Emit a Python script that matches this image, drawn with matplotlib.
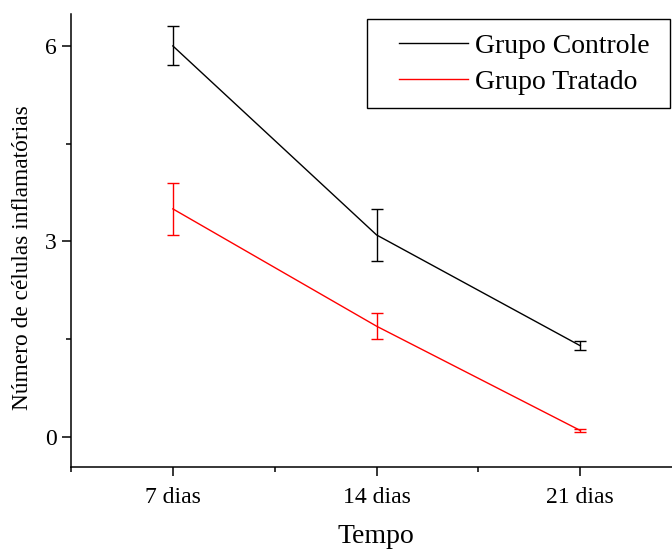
import numpy as np
import matplotlib.pyplot as plt
from matplotlib.lines import Line2D
from matplotlib.patches import Rectangle

plt.rcParams['font.family'] = ['Liberation Serif', 'DejaVu Serif']

dias = ['7 dias', '14 dias', '21 dias']
controle = [6.0, 3.1, 1.4]
controle_err = [0.3, 0.4, 0.07]
tratado = [3.5, 1.7, 0.1]
tratado_err = [0.4, 0.2, 0.03]

x = np.arange(1, len(dias) + 1)
W, H = 672, 551

fig = plt.figure(figsize=(W / 100, H / 100), dpi=100)
ax = fig.add_axes([71 / W, 84 / H, 1 - 71 / W, (467 - 14) / H])

ax.errorbar(x, controle, yerr=controle_err, color='black', lw=1.0,
            elinewidth=1.0, capsize=4.3, capthick=1.0)
ax.errorbar(x, tratado, yerr=tratado_err, color='red', lw=1.0,
            elinewidth=1.0, capsize=4.3, capthick=1.0)

ax.set_xlim(0.5, 3.45)
ax.set_ylim(-0.46, 6.49)
ax.set_xticks(x)
ax.set_xticklabels(dias)
ax.set_xticks([0.5, 1.5, 2.5], minor=True)
ax.set_yticks([0, 3, 6])
ax.set_yticks([1.5, 4.5], minor=True)

for side in ['top', 'right']:
    ax.spines[side].set_visible(False)
for side in ['left', 'bottom']:
    ax.spines[side].set_linewidth(1.1)

ax.tick_params(axis='both', which='major', direction='out', length=6.5,
               width=1.1, labelsize=17)
ax.tick_params(axis='y', which='major', pad=4)
ax.tick_params(axis='x', which='major', pad=8)
ax.tick_params(axis='both', which='minor', direction='out', length=3.5, width=1.1)

ax.set_xlabel('Tempo', fontsize=20)
ax.xaxis.set_label_coords((376 - 71) / 601, -0.125)
ax.set_ylabel('Número de células inflamatórias', fontsize=16.8)
ax.yaxis.set_label_coords(-0.063, (467 - 258) / 453)

# legend
handles = [Line2D([], [], color='black', lw=1.0),
           Line2D([], [], color='red', lw=1.0)]
fig.legend(handles, ['Grupo Controle', 'Grupo Tratado'],
           loc='center left', bbox_to_anchor=(399 / W, 1 - 64 / H),
           fontsize=20, frameon=False, handlelength=2.5, handletextpad=0.25,
           borderpad=0, labelspacing=0.38, borderaxespad=0)
fig.patches.append(Rectangle((367 / W, 1 - 108 / H), (670 - 367) / W, (108 - 19) / H,
                             transform=fig.transFigure, fill=False,
                             edgecolor='black', linewidth=1.0))

fig.savefig('out.png', dpi=100)
